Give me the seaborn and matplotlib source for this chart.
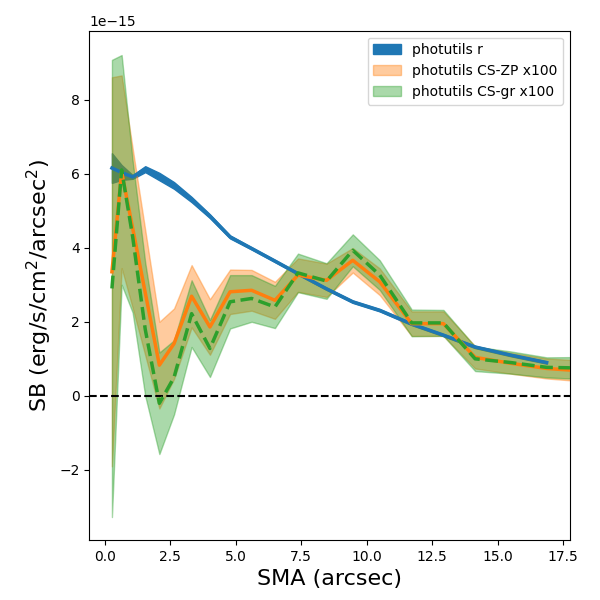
import numpy as np
import pandas as pd
import matplotlib
matplotlib.use("Agg")
import matplotlib.pyplot as plt
import seaborn as sns

# SMA grid (arcsec)
sma = [0.28, 0.65, 1.07, 1.55, 2.09, 2.65, 3.32, 4.02, 4.79, 5.61, 6.5, 7.38,
       8.47, 9.47, 10.5, 11.72, 12.93, 14.14, 15.5, 16.87, 18.3]

# photutils r (units of 1e-15)
sb_r = [6.15, 6.03, 5.91, 6.12, 5.92, 5.68, 5.30, 4.85, 4.29, 3.98, 3.64, 3.30,
        2.89, 2.54, 2.31, 1.94, 1.64, 1.32, 1.10, 0.90]
err_r = [0.40, 0.20, 0.05, 0.08, 0.10, 0.09, 0.07, 0.05, 0.04, 0.03, 0.03, 0.03,
         0.03, 0.03, 0.03, 0.03, 0.03, 0.03, 0.03, 0.03]

# photutils CS-ZP x100
sb_zp = [3.35, 6.05, 4.53, 2.79, 0.83, 1.41, 2.69, 1.86, 2.81, 2.85, 2.58, 3.26,
         3.12, 3.66, 3.08, 1.95, 1.95, 1.04, 0.88, 0.74, 0.67]
err_zp = [5.25, 2.60, 2.15, 1.69, 1.17, 0.95, 0.84, 0.75, 0.60, 0.55, 0.50, 0.45,
          0.45, 0.33, 0.36, 0.33, 0.33, 0.30, 0.28, 0.27, 0.28]

# photutils CS-gr x100
sb_gr = [2.90, 6.10, 4.30, 1.80, -0.20, 0.50, 2.22, 1.28, 2.54, 2.63, 2.40, 3.32,
         3.10, 3.93, 3.26, 1.97, 1.97, 1.00, 0.90, 0.77, 0.75]
err_gr = [6.17, 3.10, 2.05, 1.80, 1.37, 1.00, 0.90, 0.77, 0.72, 0.63, 0.57, 0.52,
          0.48, 0.43, 0.40, 0.36, 0.35, 0.33, 0.30, 0.27, 0.30]

labels = ["photutils r", "photutils CS-ZP x100", "photutils CS-gr x100"]
scale = 1e-15

fig, ax = plt.subplots(figsize=(6, 6), dpi=100)
fig.subplots_adjust(left=0.149, right=0.95, top=0.949, bottom=0.1)

x = np.array(sma)
series = [
    (x[:len(sb_r)], np.array(sb_r), np.array(err_r), "#1f77b4", 1.0, "-"),
    (x, np.array(sb_zp), np.array(err_zp), "#ff7f0e", 0.4, "-"),
    (x, np.array(sb_gr), np.array(err_gr), "#2ca02c", 0.4, "--"),
]

handles = []
for (xx, yy, ee, col, al, ls), lab in zip(series, labels):
    h = ax.fill_between(xx, (yy - ee) * scale, (yy + ee) * scale,
                        color=col, alpha=al, label=lab, zorder=1)
    handles.append(h)

for (xx, yy, ee, col, al, ls), lab in zip(series, labels):
    df = pd.DataFrame({"sma": xx, "sb": yy * scale})
    sns.lineplot(data=df, x="sma", y="sb", ax=ax, color=col, linestyle=ls,
                 linewidth=2.5, legend=False, sort=False, zorder=3)

ax.axhline(0, color="k", linestyle="--", linewidth=1.5, zorder=2)

ax.set_xlim(-0.58, 17.76)
ax.set_ylim(-3.89e-15, 9.86e-15)
ax.set_xlabel("SMA (arcsec)", fontsize=16)
ax.set_ylabel("SB (erg/s/cm$^2$/arcsec$^2$)", fontsize=16)
ax.legend(handles=handles, labels=labels, loc="upper right")

fig.savefig("out.png", dpi=100)
